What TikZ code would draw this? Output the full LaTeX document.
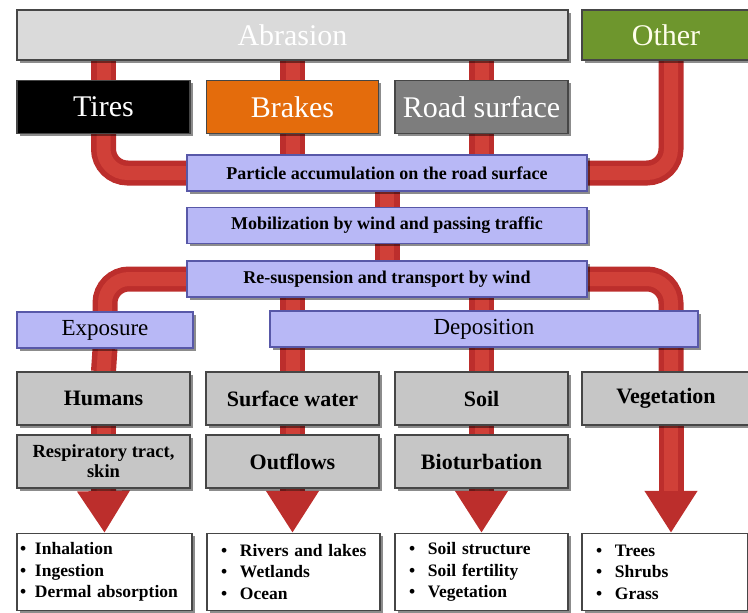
\documentclass[tikz,border=0pt]{standalone}
\usepackage{fontspec}
\setmainfont{Liberation Serif}
\usetikzlibrary{arrows.meta,shadows,backgrounds}

\definecolor{pipedark}{RGB}{188,46,44}
\definecolor{pipelight}{RGB}{208,64,56}
\definecolor{stagefill}{RGB}{184,184,246}
\definecolor{stageline}{RGB}{88,88,168}
\definecolor{boxgray}{RGB}{198,198,198}
\definecolor{boxline}{RGB}{70,70,70}
\definecolor{barfill}{RGB}{218,218,218}
\definecolor{brakeorange}{RGB}{228,108,12}
\definecolor{roadgray}{RGB}{125,125,125}
\definecolor{othergreen}{RGB}{110,150,45}

% bullets for the outcome lists
\newcommand\bulA[1]{\makebox[15pt][l]{\textbullet}#1}
\newcommand\bulB[1]{\hspace*{11pt}\makebox[19pt][l]{\textbullet}#1}

\tikzset{
  base/.style={rectangle, draw=boxline, line width=1.2pt, inner sep=0pt,
    drop shadow={shadow xshift=2.5pt, shadow yshift=-2.5pt, fill=black, opacity=0.45}},
  source/.style={base, minimum height=53pt, text=white, font=\fontsize{30}{32}\selectfont},
  stage/.style={base, fill=stagefill, draw=stageline, minimum width=400pt,
    minimum height=36pt, font=\bfseries\fontsize{18}{20}\selectfont},
  branch/.style={base, fill=stagefill, draw=stageline, minimum height=36pt,
    font=\fontsize{23}{25}\selectfont},
  target/.style={base, fill=boxgray, minimum width=173pt, minimum height=53pt,
    font=\bfseries\fontsize{22}{24}\selectfont},
  outcome/.style={base, fill=white, minimum height=77pt, align=left,
    font=\bfseries\fontsize{17.5}{21.5}\selectfont},
  pipe/.style={line width=25pt, draw=pipedark, rounded corners=24pt,
    postaction={draw=pipelight, line width=14pt}},
  pipearrow/.style={line width=25pt, draw=pipedark, -{Triangle[width=50pt,length=42pt]},
    postaction={draw=pipelight, line width=14pt, -, shorten >=42pt}},
}

\begin{document}
\begin{tikzpicture}[x=1pt, y=-1pt]
\useasboundingbox (0,0) rectangle (748,613);
\coordinate (rc) at (671,0);

% sources
\node[source, fill=barfill, minimum width=551pt, minimum height=50pt] (abr) at (292.5,35) {Abrasion};
\node[source, fill=othergreen, minimum width=168pt, minimum height=50pt, text=white!92!yellow] (other) at (666,35) {Other};
\node[source, fill=black, minimum width=173pt] (tires) at (103.5,107) {Tires};
\node[source, fill=brakeorange, minimum width=172pt] (brakes) at (292.5,107) {Brakes};
\node[source, fill=roadgray, minimum width=173pt] (road) at (481.5,107) {Road surface};

% processes
\node[stage] (accum) at (387,173) {Particle accumulation on the road surface};
\node[stage] (mobil) at (387,225.5) {Mobilization by wind and passing traffic};
\node[stage] (resusp) at (387,279) {Re-suspension and transport by wind};

% pathways
\node[branch, minimum width=176pt] (expo) at (105,330) {Exposure};
\node[branch, minimum width=428pt] (depo) at (484,329) {Deposition};

% receptors
\node[target] (humans) at (103.5,398.5) {Humans};
\node[target] (water) at (292.5,398.5) {Surface water};
\node[target] (soil) at (481.5,398.5) {Soil};
\node[target, minimum width=168pt] (veg) at (666,398.5) {Vegetation};

\node[target, font=\bfseries\fontsize{18.5}{20}\selectfont, align=center] (resp) at (103.5,461.5) {Respiratory tract,\\skin};
\node[target] (outfl) at (292.5,461.5) {Outflows};
\node[target] (biot) at (481.5,461.5) {Bioturbation};

% outcomes
\node[outcome, minimum width=175pt, inner xsep=3pt, text width=169pt] (b1) at (104.5,572)
  {\bulA{Inhalation}\\\bulA{Ingestion}\\\bulA{Dermal absorption}};
\node[outcome, minimum width=173pt, inner xsep=3pt, text width=167pt] (b2) at (293.5,572)
  {\bulB{Rivers and lakes}\\\bulB{Wetlands}\\\bulB{Ocean}};
\node[outcome, minimum width=173pt, inner xsep=3pt, text width=167pt] (b3) at (481.5,572)
  {\bulB{Soil structure}\\\bulB{Soil fertility}\\\bulB{Vegetation}};
\node[outcome, minimum width=166pt, inner xsep=3pt, text width=160pt] (b4) at (665,572)
  {\bulB{Trees}\\\bulB{Shrubs}\\\bulB{Grass}};

% flow pipes behind the boxes
\begin{scope}[on background layer]
  \draw[pipe] (tires.north |- abr.south) -- (tires.north);
  \draw[pipe] (brakes.north |- abr.south) -- (brakes.north);
  \draw[pipe] (road.north |- abr.south) -- (road.north);
  \draw[pipe] (tires.south) -- (tires.south |- accum.west) -- (accum.west);
  \draw[pipe] (brakes.south) -- (brakes.south |- accum.north);
  \draw[pipe] (road.south) -- (road.south |- accum.north);
  \draw[pipe] (rc |- other.south) -- (rc |- accum.east) -- (accum.east);
  \draw[pipe] (accum.south) -- (mobil.north);
  \draw[pipe] (mobil.south) -- (resusp.north);
  \draw[pipe] (resusp.west) -- (resusp.west -| expo.north) -- (expo.north);
  \draw[pipe] (resusp.east) -- (resusp.east -| rc) -- (rc |- veg.north);
  \draw[pipe] (resusp.south -| water.north) -- (water.north);
  \draw[pipe] (resusp.south -| soil.north) -- (soil.north);
  \draw[pipe] (expo.south) -- (humans.north);
  \draw[pipe] (humans.south) -- (resp.north);
  \draw[pipe] (water.south) -- (outfl.north);
  \draw[pipe] (soil.south) -- (biot.north);
  \draw[pipearrow] (resp.south) -- (b1.north);
  \draw[pipearrow] (outfl.south) -- (b2.north -| outfl.south);
  \draw[pipearrow] (biot.south) -- (b3.north -| biot.south);
  \draw[pipearrow] (rc |- veg.south) -- (rc |- b4.north);
\end{scope}
\end{tikzpicture}
\end{document}
